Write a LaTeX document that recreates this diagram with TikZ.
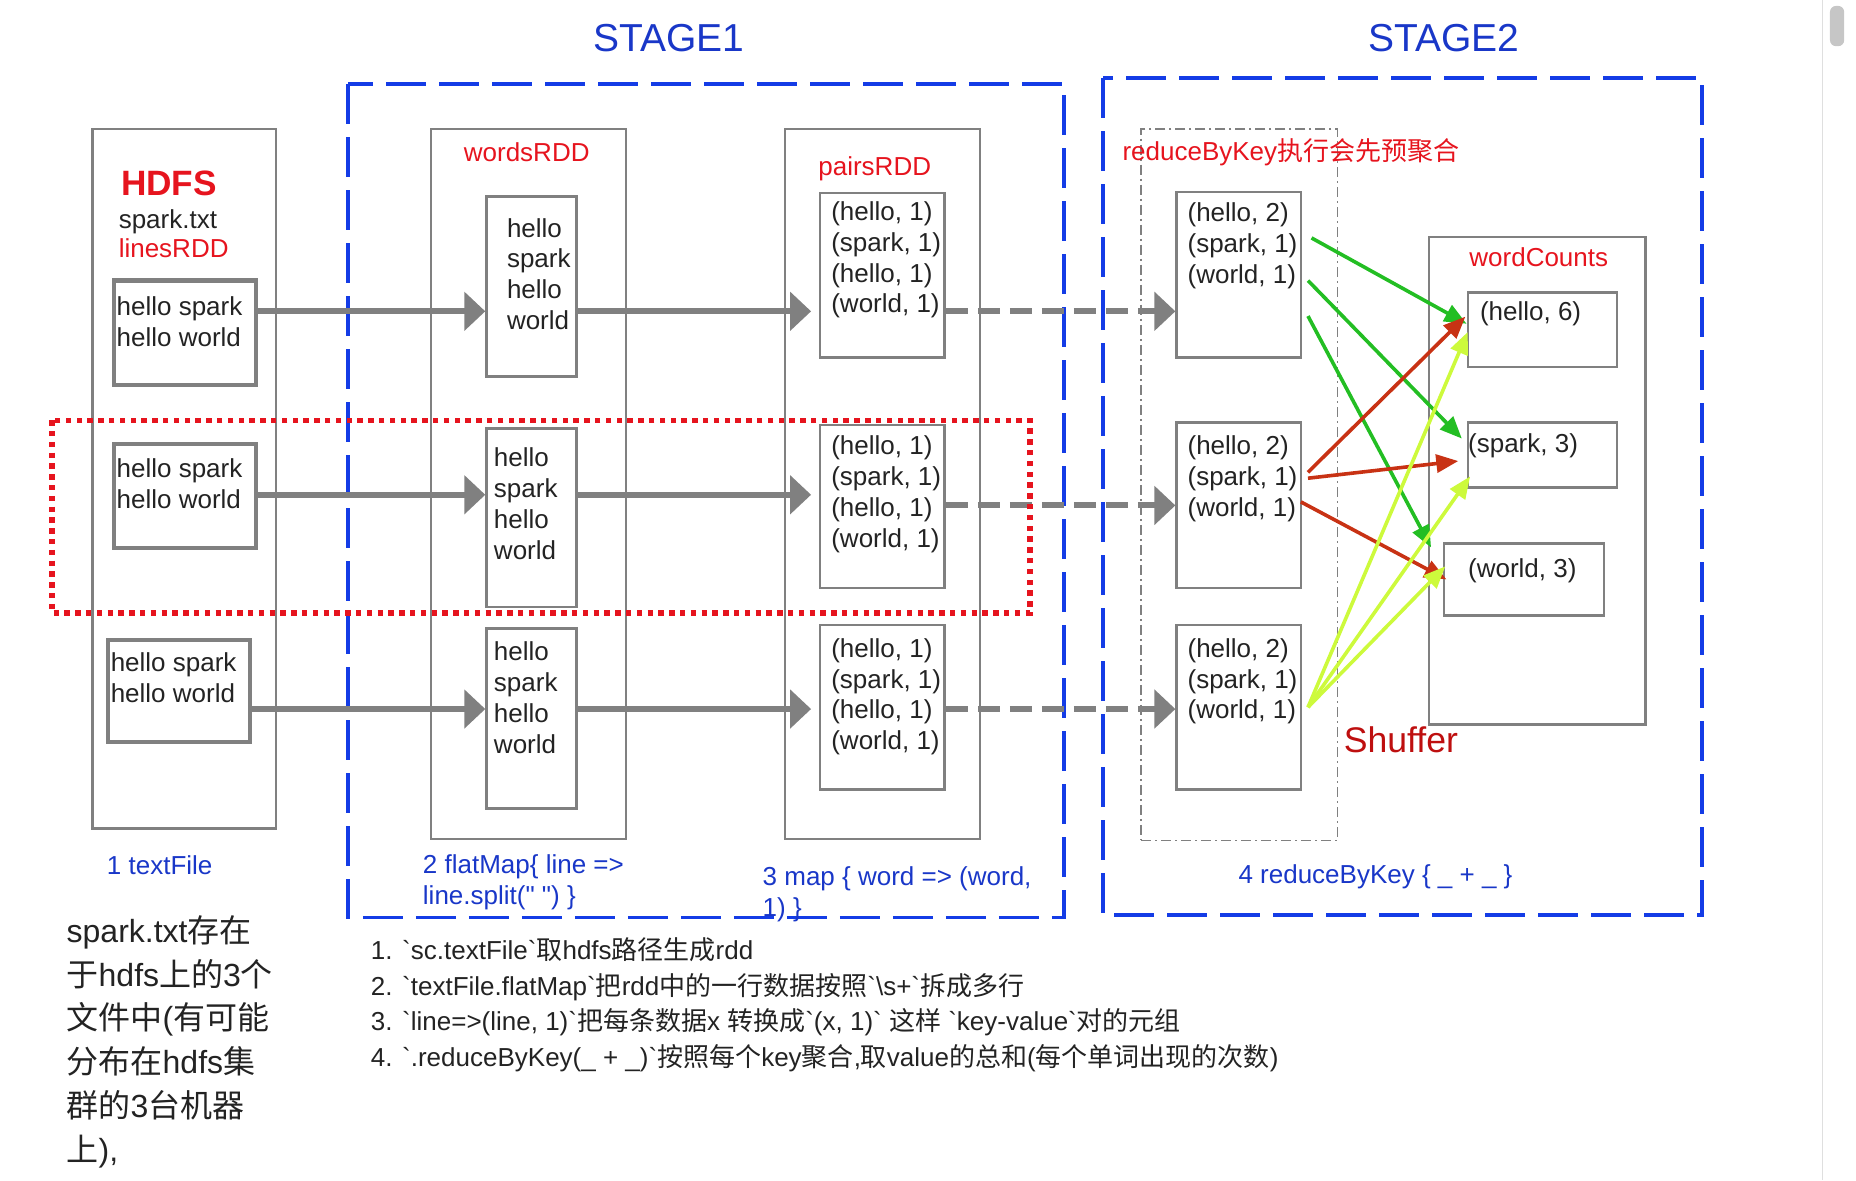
\documentclass[tikz,border=0pt]{standalone}
\usepackage{fontspec}
\setmainfont{Liberation Sans}
\newfontfamily\rawfont{Liberation Sans}
\newfontfamily\cjk{Noto Sans CJK SC}
\usetikzlibrary{arrows.meta,calc}
\newcommand\zh[1]{{\cjk #1}}
\newcommand\pxu{0.5918pt}
\newcommand\bodyfont{\fontsize{13}{15.4}\selectfont}
\definecolor{linegray}{RGB}{128,128,128}
\definecolor{rddred}{RGB}{230,20,30}
\definecolor{stageblue}{RGB}{20,60,230}
\definecolor{labelblue}{RGB}{25,55,200}
\definecolor{shufred}{RGB}{190,15,15}
\definecolor{arrgreen}{RGB}{35,190,35}
\definecolor{arrbrown}{RGB}{200,50,20}
\definecolor{arrlime}{RGB}{205,250,60}
\definecolor{inkgray}{RGB}{35,35,35}
\tikzstyle{colnode}=[draw=linegray,%
                     line width=1.2pt,%
                     rectangle,%
                     inner sep=0pt]
\tikzstyle{aggnode}=[draw=linegray,line width=0.7pt,rectangle,inner sep=0pt,dash pattern=on 5pt off 2pt on 1pt off 2pt]
\tikzstyle{linenode}=[draw=linegray,line width=2.1pt,rectangle,inner sep=0pt]
\tikzstyle{celltext}=[inner sep=0pt,anchor=north west,align=left,font=\bodyfont,text=inkgray]
\tikzstyle{rddname}=[inner sep=0pt,font=\bodyfont,text=rddred]
\tikzstyle{steplabel}=[inner sep=0pt,align=left,font=\bodyfont\rawfont,text=labelblue]
\tikzstyle{stagetitle}=[inner sep=0pt,font=\fontsize{19.5}{22}\selectfont,text=labelblue]
\tikzstyle{stagebox}=[draw=stageblue,line width=1.8pt,dash pattern=on 20pt off 6.5pt]
\tikzstyle{machine}=[draw=rddred,line width=2.7pt,dash pattern=on 2.7pt off 2.7pt]
\tikzstyle{flow}=[draw=linegray,line width=3pt,-{Triangle[length=10.5pt,width=19pt]}]
\tikzstyle{dashflow}=[flow,dash pattern=on 11pt off 5pt]
\tikzstyle{shufarrow}=[line width=1.8pt,-{Triangle[length=11pt,width=9pt]}]
\tikzset{boxdim/.style 2 args={minimum width=#1*\pxu,minimum height=#2*\pxu}}

\begin{document}
\begin{tikzpicture}[x=\pxu,y=-\pxu]
  \useasboundingbox (0,0) rectangle (1568,997);
  % stages
  \node[stagetitle] (t1) at (565,32) {STAGE1};
  \node[stagetitle] (t2) at (1220,32) {STAGE2};
  \draw[stagebox] (294,71) rectangle (899,775);
  \draw[stagebox] (932,66) rectangle (1438,773);
  % columns
  \node[colnode,boxdim={155}{591}] (hdfs) at (155.5,404.5) {};
  \node[colnode,boxdim={165}{600}] (words) at (446.5,409) {};
  \node[colnode,boxdim={165}{600}] (pairs) at (745.5,409) {};
  \node[aggnode,boxdim={166}{601}] (reduce) at (1047,409.5) {};
  \node[colnode,boxdim={183}{412}] (counts) at (1298.5,406) {};
  \node[inner sep=0pt,anchor=west,text=rddred,font=\fontsize{17.6}{20}\selectfont\bfseries] (hdfsname) at (102,155) {HDFS};
  \node[inner sep=0pt,anchor=west,font=\bodyfont,text=inkgray] (file) at (100,187) {spark.txt};
  \node[rddname,anchor=west] (lines) at (100,210) {linesRDD};
  \node[rddname] (wordsname) at (445,129) {wordsRDD};
  \node[rddname] (pairsname) at (739,143) {pairsRDD};
  \node[rddname,anchor=west] (reducename) at (948,129) {reduceByKey\zh{执行会先预聚合}};
  \node[rddname] (countsname) at (1300,217) {wordCounts};
  % lines
  \node[linenode,boxdim={120}{88}] (h1) at (156,281) {};
  \node[linenode,boxdim={120}{88}] (h2) at (156,419) {};
  \node[linenode,boxdim={120}{86}] (h3) at (151,584) {};
  \node[celltext] (h1t) at ($(h1.north west)+(4,15)$) {hello spark\\hello world};
  \node[celltext] (h2t) at ($(h2.north west)+(4,14)$) {hello spark\\hello world};
  \node[celltext] (h3t) at ($(h3.north west)+(4,12)$) {hello spark\\hello world};
  % words
  \node[colnode,boxdim={76}{152}] (w1) at (449,242) {};
  \node[colnode,boxdim={76}{151}] (w2) at (449,437.5) {};
  \node[colnode,boxdim={76}{152}] (w3) at (449,607) {};
  \node[celltext] (w1t) at ($(w1.north west)+(18,19)$) {hello\\spark\\hello\\world};
  \node[celltext] (w2t) at ($(w2.north west)+(7,17)$) {hello\\spark\\hello\\world};
  \node[celltext] (w3t) at ($(w3.north west)+(7,12)$) {hello\\spark\\hello\\world};
  % pairs
  \node[colnode,boxdim={105}{139}] (p1) at (745.5,232.5) {};
  \node[colnode,boxdim={105}{138}] (p2) at (745.5,428) {};
  \node[colnode,boxdim={105}{139}] (p3) at (745.5,597.5) {};
  \node[celltext] (p1t) at ($(p1.north west)+(10,8)$) {(hello, 1)\\(spark, 1)\\(hello, 1)\\(world, 1)};
  \node[celltext] (p2t) at ($(p2.north west)+(10,10)$) {(hello, 1)\\(spark, 1)\\(hello, 1)\\(world, 1)};
  \node[celltext] (p3t) at ($(p3.north west)+(10,12)$) {(hello, 1)\\(spark, 1)\\(hello, 1)\\(world, 1)};
  % reduce
  \node[colnode,boxdim={105}{140}] (r1) at (1046.5,232) {};
  \node[colnode,boxdim={105}{140}] (r2) at (1046.5,427) {};
  \node[colnode,boxdim={105}{139}] (r3) at (1046.5,597.5) {};
  \node[celltext] (r1t) at ($(r1.north west)+(10,10)$) {(hello, 2)\\(spark, 1)\\(world, 1)};
  \node[celltext] (r2t) at ($(r2.north west)+(10,12)$) {(hello, 2)\\(spark, 1)\\(world, 1)};
  \node[celltext] (r3t) at ($(r3.north west)+(10,12)$) {(hello, 2)\\(spark, 1)\\(world, 1)};
  % counts
  \node[colnode,boxdim={126}{63}] (c1) at (1303,278.5) {};
  \node[colnode,boxdim={126}{55}] (c2) at (1303,384.5) {};
  \node[colnode,boxdim={135}{61}] (c3) at (1287.5,489.5) {};
  \node[celltext,anchor=west] (c1t) at (1250,265) {(hello, 6)};
  \node[celltext,anchor=west] (c2t) at (1240,377) {(spark, 3)};
  \node[celltext,anchor=west] (c3t) at (1240,482) {(world, 3)};
  \node[inner sep=0pt,anchor=west,text=shufred,font=\fontsize{17.8}{20}\selectfont] (shuf) at (1135,625) {Shuffer};
  % flows
  \coordinate (row1) at (0,263);
  \coordinate (row2) at (0,418);
  \coordinate (row3) at (0,599);
  \coordinate (dash2) at (0,427);
  \draw[flow] (h1.east |- row1) -- (w1.west |- row1);
  \draw[flow] (h2.east |- row2) -- (w2.west |- row2);
  \draw[flow] (h3.east |- row3) -- (w3.west |- row3);
  \draw[flow,shorten >=4pt] (w1.east |- row1) -- (p1.west |- row1);
  \draw[flow,shorten >=4pt] (w2.east |- row2) -- (p2.west |- row2);
  \draw[flow,shorten >=4pt] (w3.east |- row3) -- (p3.west |- row3);
  \draw[dashflow] (p1.east |- row1) -- (r1.west |- row1);
  \draw[dashflow] (p2.east |- dash2) -- (r2.west |- dash2);
  \draw[dashflow] (p3.east |- row3) -- (r3.west |- row3);
  % shuffle
  \draw[shufarrow,arrgreen] ($(r1.east)+(8,-31)$) -- ($(c1.west)+(0,-5)$);
  \draw[shufarrow,arrgreen] ($(r1.east)+(5,5)$) -- ($(c2.west)+(-4,-14)$);
  \draw[shufarrow,arrgreen] ($(r1.east)+(5,35)$) -- ($(c3.west)+(-10,-27)$);
  \draw[shufarrow,arrbrown] ($(r2.east)+(5,-28)$) -- ($(c1.west)+(-1,-11)$);
  \draw[shufarrow,arrbrown] ($(r2.east)+(5,-23)$) -- ($(c2.west)+(-7,5)$);
  \draw[shufarrow,arrbrown] ($(r2.east)+(-1,-3)$) -- ($(c3.west)+(3,0)$);
  \draw[shufarrow,arrlime] ($(r3.east)+(5,0)$) -- ($(c1.west)+(1,2)$);
  \draw[shufarrow,arrlime] ($(r3.east)+(5,0)$) -- ($(c2.west)+(3,18)$);
  \draw[shufarrow,arrlime] ($(r3.east)+(5,0)$) -- ($(c3.west)+(2,-11)$);
  \draw[machine] (44,355) rectangle (870,518);
  % steps
  \node[steplabel,anchor=west] (s1) at (90,731) {1 textFile};
  \node[steplabel,anchor=north west] (s2) at (357,722) {2 flatMap\{ line =>\\line.split(" ") \}};
  \node[steplabel,anchor=north west] (s3) at (644,732) {3 map \{ word => (word,\\1) \}};
  \node[steplabel,anchor=west] (s4) at (1046,741) {4 reduceByKey \{ \_ + \_ \}};
  \node[inner sep=0pt,anchor=north west,align=left,text=inkgray,font=\fontsize{16}{21.9}\selectfont] (note) at (56,773)
    {spark.txt\zh{存在}\\\zh{于}hdfs\zh{上的}3\zh{个}\\\zh{文件中}(\zh{有可能}\\\zh{分布在}hdfs\zh{集}\\\zh{群的}3\zh{台机器}\\\zh{上}),};
  \node[inner sep=0pt,anchor=north west,align=left,text=inkgray,font=\fontsize{13}{17.8}\selectfont\rawfont] (list) at (313,792)
    {1. `sc.textFile`\zh{取}hdfs\zh{路径生成}rdd\\
     2. `textFile.flatMap`\zh{把}rdd\zh{中的一行数据按照}`\textbackslash s+`\zh{拆成多行}\\
     3. `line=>(line, 1)`\zh{把每条数据}x \zh{转换成}`(x, 1)` \zh{这样} `key-value`\zh{对的元组}\\
     4. `.reduceByKey(\_ + \_)`\zh{按照每个}key\zh{聚合},\zh{取}value\zh{的总和}(\zh{每个单词出现的次数})};
  % scrollbar
  \draw[gray!25,line width=0.6pt] (1540,0) -- (1540,997);
  \fill[gray!45,rounded corners=3pt] (1546,5) rectangle (1558,39);
\end{tikzpicture}
\end{document}
